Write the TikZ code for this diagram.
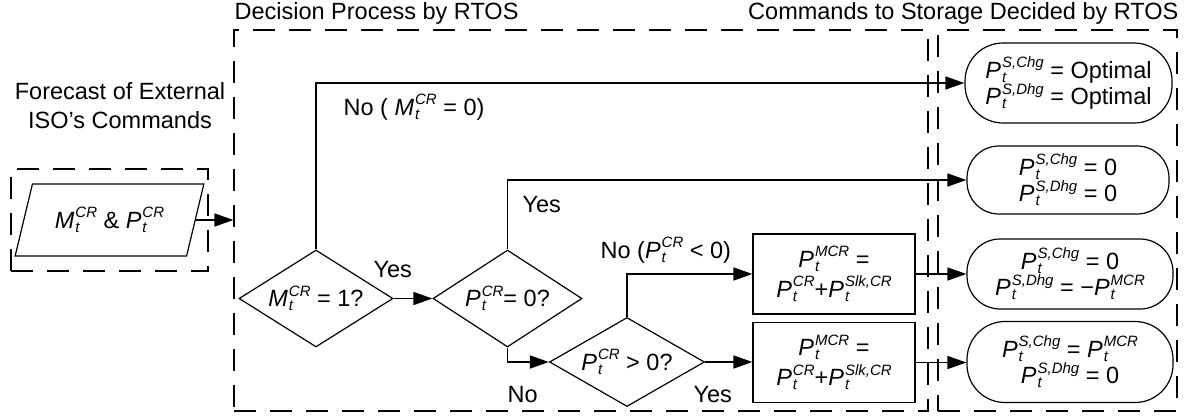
\documentclass[tikz,border=0pt]{standalone}
\usepackage{fontspec}
\setmainfont{Liberation Sans}
\usetikzlibrary{shapes.geometric,arrows.meta}
\newcommand{\scrfont}{\fontsize{15}{15}\selectfont}
\newcommand{\tvar}[3]{\textit{#1}\kern1pt\makebox[0pt][l]{\raisebox{-4pt}{\scrfont\textit{#2}}}\raisebox{10.5pt}{\scrfont\textit{#3}}}

\begin{document}
\begin{tikzpicture}[x=1pt,y=-1pt,line width=1.2pt,font=\fontsize{23.5}{29}\selectfont]
\tikzset{dashbox/.style={draw,dash pattern=on 22pt off 14pt,line width=1.1pt,inner sep=0pt}}
\tikzset{decision/.style={draw,diamond,aspect=1.6,inner sep=0pt}}
\tikzset{process/.style={draw,rectangle,minimum width=162pt,minimum height=80pt,inner sep=0pt,align=center,
  font=\fontsize{23.5}{30}\selectfont,execute at begin node=\setlength\lineskiplimit{-30pt}}}
\tikzset{terminal/.style={draw,rectangle,inner sep=0pt,align=center,
  font=\fontsize{23.5}{26.5}\selectfont,execute at begin node=\setlength\lineskiplimit{-30pt}}}
\tikzset{arr/.style={-{Triangle[length=19pt,width=13pt]},line width=1.5pt}}
\tikzset{lbl/.style={anchor=base west,inner sep=0pt}}

\useasboundingbox (0,0) rectangle (1191,416);

% dashed frames and titles
\node[dashbox,minimum width=197pt,minimum height=102pt] (fcbox) at (109.5,220) {};
\node[dashbox,minimum width=694pt,minimum height=381pt] (decbox) at (581,220.5) {};
\node[dashbox,minimum width=239pt,minimum height=381pt] (stobox) at (1057.5,220.5) {};
\node[lbl] (dectitle) at (234,19) {Decision Process by RTOS};
\node[anchor=base east,inner sep=0pt] (stotitle) at (1179,19) {Commands to Storage Decided by RTOS};
\node[align=center,inner sep=0pt] (fctitle) at (120,106) {Forecast of External\\ISO's Commands};

% input
\node[draw,trapezium,trapezium left angle=64,trapezium right angle=116,trapezium stretches=true,
  minimum width=189pt,minimum height=72pt,inner sep=0pt] (fc) at (109.5,220) {\tvar{M}{t}{CR} \& \tvar{P}{t}{CR}};

% decisions
\node[decision,minimum width=154pt,minimum height=97pt] (mq) at (316,298.5) {\tvar{M}{t}{CR} = 1?};
\node[decision,minimum width=149pt,minimum height=97pt] (pzero) at (507.5,298.5) {\tvar{P}{t}{CR}= 0?};
\node[decision,minimum width=155pt,minimum height=89pt] (ppos) at (627,362) {\tvar{P}{t}{CR} > 0?};

% processes
\node[process] (mcr1) at (834,274) {\tvar{P}{t}{MCR} =\\ \tvar{P}{t}{CR}+\tvar{P}{t}{Slk,CR}};
\node[process] (mcr2) at (834,362.5) {\tvar{P}{t}{MCR} =\\ \tvar{P}{t}{CR}+\tvar{P}{t}{Slk,CR}};

% storage commands
\node[terminal,minimum width=207pt,minimum height=80pt,rounded corners=38pt] (opt) at (1068.5,83)
  {\tvar{P}{t}{S,Chg} = Optimal\\ \tvar{P}{t}{S,Dhg} = Optimal};
\node[terminal,minimum width=202pt,minimum height=68pt,rounded corners=32pt] (idle) at (1068,180)
  {\tvar{P}{t}{S,Chg} = 0\\ \tvar{P}{t}{S,Dhg} = 0};
\node[terminal,minimum width=206pt,minimum height=70pt,rounded corners=33pt] (dchg) at (1070,274)
  {\tvar{P}{t}{S,Chg} = 0\\ \tvar{P}{t}{S,Dhg} = −\tvar{P}{t}{MCR}};
\node[terminal,minimum width=206pt,minimum height=81pt,rounded corners=38pt] (chg) at (1070,362)
  {\tvar{P}{t}{S,Chg} = \tvar{P}{t}{MCR}\\ \tvar{P}{t}{S,Dhg} = 0};

% connectors
\draw[arr] (fc.east) -- (fc.east -| decbox.west);
\draw[arr] (mq.north) |- (opt.west);
\draw[arr] (mq.east) -- (pzero.west);
\draw[arr] (pzero.north) |- (idle.west);
\draw[arr] (pzero.south) |- (ppos.west);
\draw[arr] (ppos.north) |- (mcr1.west);
\draw[arr] (ppos.east) -- (ppos.east -| mcr2.west);
\draw[arr] (mcr1.east) -- (mcr1.east -| dchg.west);
\draw[arr] (mcr2.east) -- (mcr2.east -| chg.west);

% labels
\node[lbl] (nomcr) at (343,115) {No ( \tvar{M}{t}{CR} = 0)};
\node[lbl] (yeszero) at (522,212) {Yes};
\node[lbl] (yesmcr) at (373,277) {Yes};
\node[lbl] (noneg) at (600,258) {No (\tvar{P}{t}{CR} < 0)};
\node[lbl] (nozero) at (507,402) {No};
\node[lbl] (yespos) at (693,402) {Yes};
\end{tikzpicture}
\end{document}
